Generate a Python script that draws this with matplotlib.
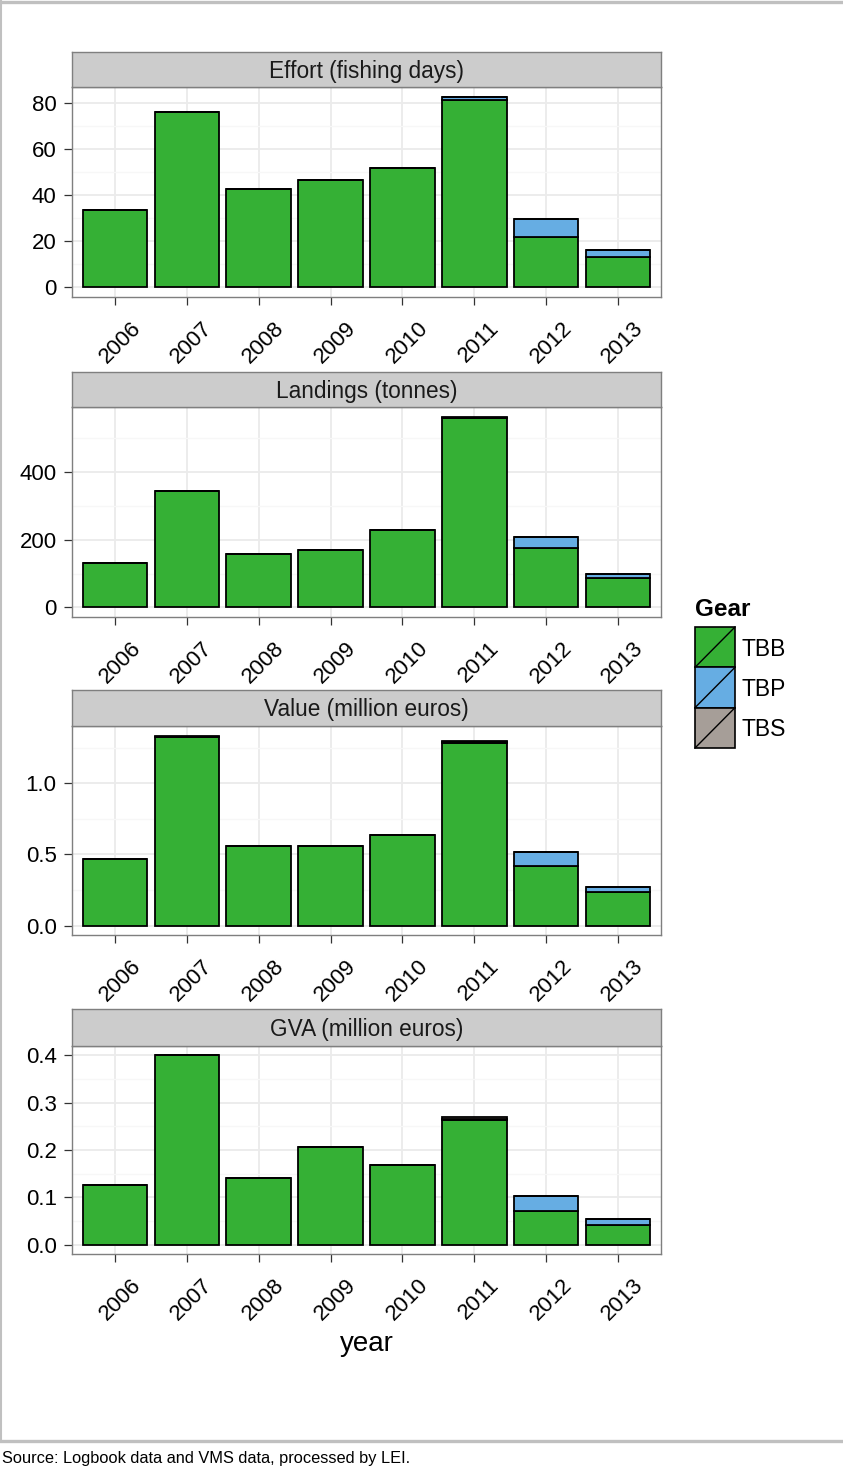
import matplotlib
matplotlib.use("Agg")
import matplotlib.pyplot as plt
import matplotlib.transforms as mtransforms
import numpy as np
from matplotlib.lines import Line2D
from matplotlib.patches import Rectangle

plt.rcParams['font.family'] = ['Liberation Sans', 'DejaVu Sans']

# ---------------------------
# Data
# ---------------------------
years = ['2006', '2007', '2008', '2009', '2010', '2011', '2012', '2013']
gears = ['TBB', 'TBP', 'TBS']
gear_colors = ['#35B035', '#66ADE3', '#A69E98']

effort_tbb = [33.4, 76.0, 42.6, 46.6, 51.9, 81.3, 21.7, 13.1]
effort_tbp = [0, 0, 0, 0, 0, 1.0, 7.8, 3.2]
effort_tbs = [0, 0, 0, 0, 0, 0.4, 0, 0]

landings_tbb = [131, 343, 158, 170, 227, 558, 174, 86]
landings_tbp = [0, 0, 0, 0, 0, 1, 34, 12]
landings_tbs = [0, 0, 0, 0, 0, 4, 0, 0]

value_tbb = [0.465, 1.328, 0.562, 0.562, 0.639, 1.285, 0.419, 0.234]
value_tbp = [0, 0, 0, 0, 0, 0.002, 0.100, 0.039]
value_tbs = [0, 0.008, 0, 0, 0, 0.008, 0, 0]

gva_tbb = [0.126, 0.400, 0.140, 0.207, 0.168, 0.264, 0.071, 0.042]
gva_tbp = [0, 0, 0, 0, 0, 0.001, 0.031, 0.012]
gva_tbs = [0, 0, 0, 0, 0, 0.004, 0, 0]

panel_titles = ['Effort (fishing days)', 'Landings (tonnes)',
                'Value (million euros)', 'GVA (million euros)']
panel_ticks = [[0, 20, 40, 60, 80], [0, 200, 400],
               [0.0, 0.5, 1.0], [0.0, 0.1, 0.2, 0.3, 0.4]]
panel_fmt = ['{:.0f}', '{:.0f}', '{:.1f}', '{:.1f}']
panel_data = [(effort_tbb, effort_tbp, effort_tbs),
              (landings_tbb, landings_tbp, landings_tbs),
              (value_tbb, value_tbp, value_tbs),
              (gva_tbb, gva_tbp, gva_tbs)]

source_text = 'Source: Logbook data and VMS data, processed by LEI.'

# ---------------------------
# Layout helpers (pixel positions of the 843x1470 picture)
# ---------------------------
W, H = 843, 1470
fig = plt.figure(figsize=(W / 100, H / 100), dpi=100)


def px_axes(left, top, right, bottom):
    return fig.add_axes([left / W, 1 - bottom / H, (right - left) / W, (bottom - top) / H])


grey50 = '#7F7F7F'
strip_tops = [52, 372, 690, 1009]
plot_tops = [87, 407, 726, 1046]
plot_bottoms = [297, 617, 935, 1254]
x_left, x_right = 72, 661
label_shift = mtransforms.ScaledTranslation(5 / 100, -1 / 100, fig.dpi_scale_trans)

x = np.arange(len(years))
for i in range(4):
    ax = px_axes(x_left, plot_tops[i], x_right, plot_bottoms[i])
    bottom = np.zeros(len(years))
    for series, col in zip(panel_data[i], gear_colors):
        vals = np.array(series, dtype=float)
        ax.bar(x, vals, width=0.9, bottom=bottom, color=col,
               edgecolor='black', linewidth=1.3, zorder=3)
        bottom = bottom + vals
    top = bottom.max()
    ax.set_ylim(-0.05 * top, 1.05 * top)
    ax.set_xlim(-0.6, len(years) - 0.4)

    ticks = panel_ticks[i]
    step = ticks[1] - ticks[0]
    ax.set_yticks(ticks)
    ax.set_yticklabels([panel_fmt[i].format(t) for t in ticks])
    ax.set_yticks(np.arange(step / 2, 1.05 * top, step), minor=True)
    ax.set_xticks(x)
    ax.set_xticklabels(years, rotation=45, ha='center', va='top')

    ax.set_axisbelow(True)
    ax.grid(which='major', color='#EBEBEB', linewidth=1.3, zorder=0)
    ax.grid(which='minor', axis='y', color='#F7F7F7', linewidth=0.9, zorder=0)
    ax.tick_params(which='major', length=6, width=0.9, color='#333333',
                   labelsize=16, labelcolor='black', pad=5)
    ax.tick_params(axis='y', which='minor', length=0)
    ax.tick_params(axis='x', pad=8)
    # nudge the rotated year labels a little to the right, as in the original
    for tick in ax.xaxis.get_major_ticks():
        tick.label1.set_transform(tick.label1.get_transform() + label_shift)
    for sp in ax.spines.values():
        sp.set_color(grey50)
        sp.set_linewidth(1.0)

    # facet strip
    sax = px_axes(x_left, strip_tops[i], x_right, plot_tops[i])
    sax.set_facecolor('#CCCCCC')
    sax.set_xticks([])
    sax.set_yticks([])
    for sp in sax.spines.values():
        sp.set_color(grey50)
        sp.set_linewidth(1.0)
    sax.text(0.5, 0.45, panel_titles[i], ha='center', va='center',
             fontsize=16.3, color='#1A1A1A', transform=sax.transAxes)

fig.text((x_left + x_right) / 2 / W, 1 - 1344 / H, 'year', ha='center',
         va='center', fontsize=20)

# ---------------------------
# Legend (keys with diagonal slash, like ggplot)
# ---------------------------
fig.text(695 / W, 1 - 609 / H, 'Gear', ha='left', va='center',
         fontsize=17.5, fontweight='bold')
lax = px_axes(695, 627, 735, 748)
lax.set_xlim(0, 1)
lax.set_ylim(len(gears), 0)
lax.axis('off')
for k, (g, col) in enumerate(zip(gears, gear_colors)):
    lax.add_patch(Rectangle((0, k), 1, 1, facecolor=col, edgecolor='black',
                            linewidth=1.2, clip_on=False))
    lax.plot([0, 1], [k + 1, k], color='black', linewidth=1.0, clip_on=False)
    lax.text(1.15, k + 0.55, g, ha='left', va='center', fontsize=16.5)

# ---------------------------
# Outer frame and source line
# ---------------------------
frame_col = '#C0C0C0'
fig.add_artist(Line2D([0, 1], [1 - 1.5 / H, 1 - 1.5 / H], color=frame_col,
                      linewidth=2.4, transform=fig.transFigure))
fig.add_artist(Line2D([1 / W, 1 / W], [1, 1 - 1440 / H], color=frame_col,
                      linewidth=1.5, transform=fig.transFigure))
fig.add_artist(Line2D([0, 1], [1 - 1441 / H, 1 - 1441 / H], color=frame_col,
                      linewidth=2.4, transform=fig.transFigure))
fig.text(2 / W, 1 - 1459 / H, source_text, ha='left', va='center',
         fontsize=11.8)

fig.savefig('out.png', dpi=100)
plt.close()
